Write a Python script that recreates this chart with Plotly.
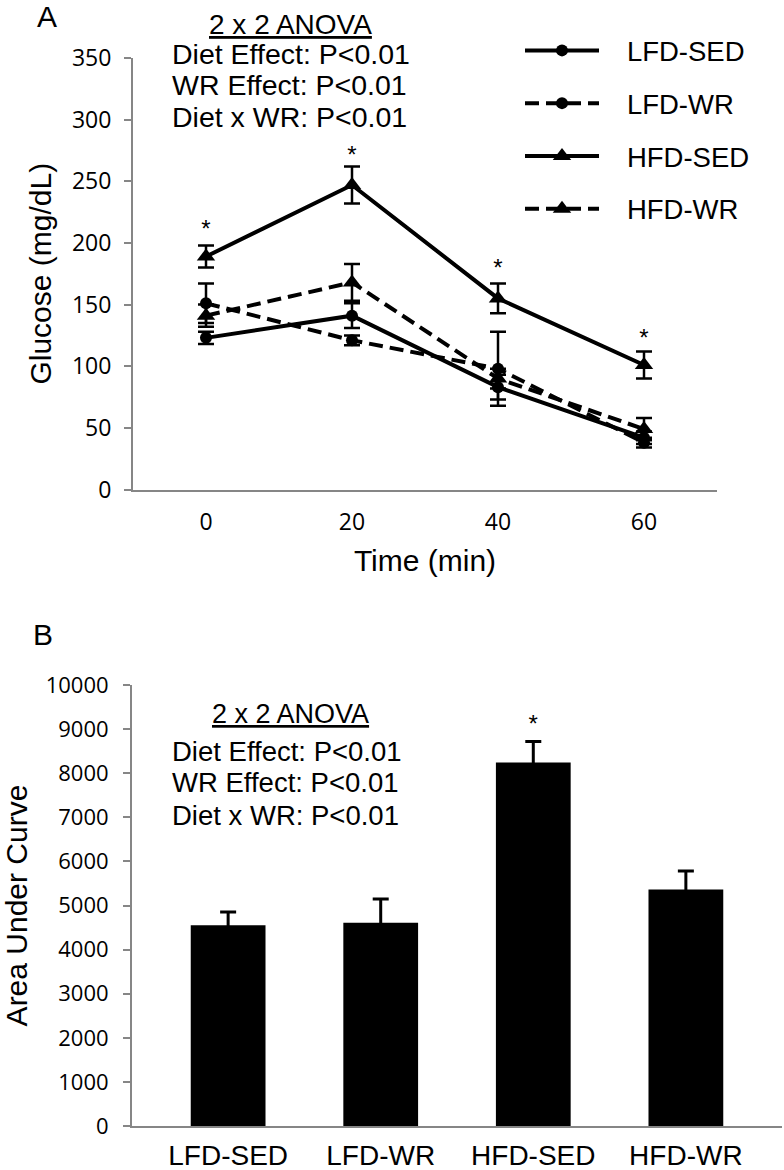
import plotly.graph_objects as go

# Panel A: glucose tolerance curve (mean, SEM)
times = ["0", "20", "40", "60"]
lfd_sed = [123, 141, 83, 42]
lfd_sed_err = [5, 10, 10, 5]
lfd_wr = [151, 121, 98, 38]
lfd_wr_err = [16, 4, 30, 4]
hfd_sed = [189, 247, 155, 101]
hfd_sed_err = [9, 15, 12, 11]
hfd_wr = [141, 168, 90, 49]
hfd_wr_err = [9, 15, 8, 9]
star_a = [210, 270, 178, 121]

# Panel B: area under curve
groups = ["LFD-SED", "LFD-WR", "HFD-SED", "HFD-WR"]
auc = [4550, 4610, 8240, 5360]
auc_err = [300, 540, 480, 420]
star_b_x = ["HFD-SED"]
star_b_y = [9060]

anova_lines = ["Diet Effect: P<0.01", "WR Effect: P<0.01", "Diet x WR: P<0.01"]

W, H = 784, 1170
AX = "#868686"
TXT = "Arial, Liberation Sans, sans-serif"
NUM = "Open Sans, sans-serif"
PAD = "\u00a0" * 3  # gap between legend symbol and label


def px(x):
    return x / W


def py(y):
    return 1 - y / H


fig = go.Figure()

series = [
    ("LFD-SED", lfd_sed, lfd_sed_err, "circle", "solid", 12),
    ("LFD-WR", lfd_wr, lfd_wr_err, "circle", "14px,7px", 12),
    ("HFD-SED", hfd_sed, hfd_sed_err, "triangle-up", "solid", 16),
    ("HFD-WR", hfd_wr, hfd_wr_err, "triangle-up", "14px,7px", 16),
]
for name, vals, errs, sym, dash, size in series:
    fig.add_trace(go.Scatter(
        x=times, y=vals, name=PAD + name, mode="lines+markers",
        line=dict(color="black", width=4, dash=dash),
        marker=dict(symbol=sym, size=size, color="black"),
        error_y=dict(type="data", array=errs, color="black", thickness=2.5, width=8),
        legendgroup=name, xaxis="x", yaxis="y",
    ))

fig.add_trace(go.Scatter(
    x=times, y=star_a, mode="text", text=["*"] * len(times),
    textfont=dict(family=TXT, size=24, color="black"),
    showlegend=False, xaxis="x", yaxis="y",
))

fig.add_trace(go.Bar(
    x=groups, y=auc, width=0.49, marker=dict(color="black", line=dict(width=0)),
    error_y=dict(type="data", array=auc_err, color="black", thickness=3, width=8),
    showlegend=False, xaxis="x2", yaxis="y2",
))
fig.add_trace(go.Scatter(
    x=star_b_x, y=star_b_y, mode="text", text=["*"],
    textfont=dict(family=TXT, size=24, color="black"),
    showlegend=False, xaxis="x2", yaxis="y2",
))

axis_common = dict(showline=True, linecolor=AX, linewidth=2, showgrid=False, zeroline=False)

fig.update_layout(
    width=W, height=H,
    margin=dict(l=0, r=0, t=0, b=0, autoexpand=False),
    plot_bgcolor="white", paper_bgcolor="white",
    font=dict(family=TXT, color="black"),
    xaxis=dict(
        domain=[px(133), px(717)], type="category", range=[-0.5, 3.5],
        ticks="", tickfont=dict(family=NUM, size=23), ticklabelstandoff=11,
        title=dict(text="Time (min)", font=dict(family=TXT, size=30), standoff=14),
        anchor="y", **axis_common,
    ),
    yaxis=dict(
        domain=[py(489.5), py(58)], range=[0, 350], dtick=50,
        ticks="outside", ticklen=7, tickwidth=2, tickcolor=AX,
        tickfont=dict(family=NUM, size=23), ticklabelstandoff=8,
        title=dict(text="Glucose (mg/dL)", font=dict(family=TXT, size=30), standoff=11),
        anchor="x", **axis_common,
    ),
    xaxis2=dict(
        domain=[px(132), px(782)], type="category", range=[-0.63, 3.63],
        ticks="", tickfont=dict(family=TXT, size=28), ticklabelstandoff=3,
        anchor="y2", **axis_common,
    ),
    yaxis2=dict(
        domain=[py(1126), py(685)], range=[0, 10000], dtick=1000, tickformat="d",
        ticks="outside", ticklen=7, tickwidth=2, tickcolor=AX,
        tickfont=dict(family=NUM, size=22), ticklabelstandoff=10,
        title=dict(text="Area Under Curve", font=dict(family=TXT, size=30), standoff=11),
        anchor="x2", **axis_common,
    ),
    legend=dict(
        x=px(520), y=py(26), xanchor="left", yanchor="top",
        font=dict(family=TXT, size=27.5), itemwidth=74,
        tracegroupgap=14, bgcolor="rgba(0,0,0,0)",
    ),
)

annotations = [
    dict(text="A", x=px(47), y=py(17), font=dict(size=30)),
    dict(text="B", x=px(43), y=py(634), font=dict(size=30)),
    dict(text="<u>2 x 2 ANOVA</u>", x=px(290.5), y=py(24), font=dict(size=28)),
    dict(text="<u>2 x 2 ANOVA</u>", x=px(290.5), y=py(714), font=dict(size=27)),
]
for line, ya, yb in zip(anova_lines, [54, 85.5, 117], [751, 782.5, 815]):
    annotations.append(dict(text=line, x=px(169.5), y=py(ya), xanchor="left", font=dict(size=28.5)))
    annotations.append(dict(text=line, x=px(169.5), y=py(yb), xanchor="left", font=dict(size=27.5)))

for a in annotations:
    a.setdefault("xanchor", "center")
    fig.add_annotation(xref="paper", yref="paper", yanchor="middle", showarrow=False, **a)

fig.write_html(
    "out.html",
    config={"displayModeBar": False},
    post_script="document.body.style.margin='0';",
)
